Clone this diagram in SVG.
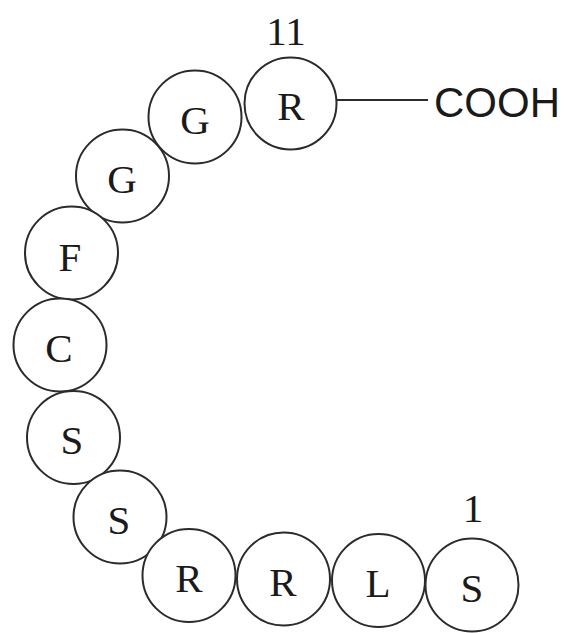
<svg xmlns="http://www.w3.org/2000/svg" width="572" height="633" viewBox="0 0 572 633">
<style>
.n circle{fill:#fff;stroke:#2b2b2b;stroke-width:2}
.n text,.num{font-family:"Liberation Serif",serif;font-size:41px;fill:#1a1a1a;text-anchor:middle}
.c{stroke:#2b2b2b;stroke-width:2;fill:none}
.cooh{font-family:"Liberation Sans",sans-serif;font-size:42px;fill:#1a1a1a}
</style>
<rect width="572" height="633" fill="#fff"/>
<g id="connectors"><line class="c" x1="337" y1="100" x2="428" y2="100"/></g>
<g id="n11" class="n"><circle cx="290.5" cy="103.5" r="46"/><text x="291" y="120">R</text></g>
<g id="n10" class="n"><circle cx="195" cy="117" r="46.5"/><text x="195" y="134">G</text></g>
<g id="n9" class="n"><circle cx="122.5" cy="176" r="46.5"/><text x="122" y="193">G</text></g>
<g id="n8" class="n"><circle cx="71.5" cy="253" r="46.5"/><text x="70" y="271">F</text></g>
<g id="n7" class="n"><circle cx="60" cy="345" r="46.5"/><text x="59" y="362">C</text></g>
<g id="n6" class="n"><circle cx="73.5" cy="437.5" r="46.5"/><text x="72" y="454">S</text></g>
<g id="n5" class="n"><circle cx="120" cy="517" r="46.5"/><text x="119" y="534">S</text></g>
<g id="n4" class="n"><circle cx="189" cy="575.5" r="46.5"/><text x="189" y="592">R</text></g>
<g id="n3" class="n"><circle cx="283.5" cy="579" r="46.5"/><text x="283" y="596">R</text></g>
<g id="n2" class="n"><circle cx="378.5" cy="580.5" r="46.5"/><text x="378" y="597">L</text></g>
<g id="n1" class="n"><circle cx="472" cy="585" r="46.5"/><text x="472" y="602">S</text></g>
<text class="num" x="286" y="45">11</text>
<text class="num" x="473" y="522">1</text>
<text class="cooh" x="434" y="117">COOH</text>
</svg>
